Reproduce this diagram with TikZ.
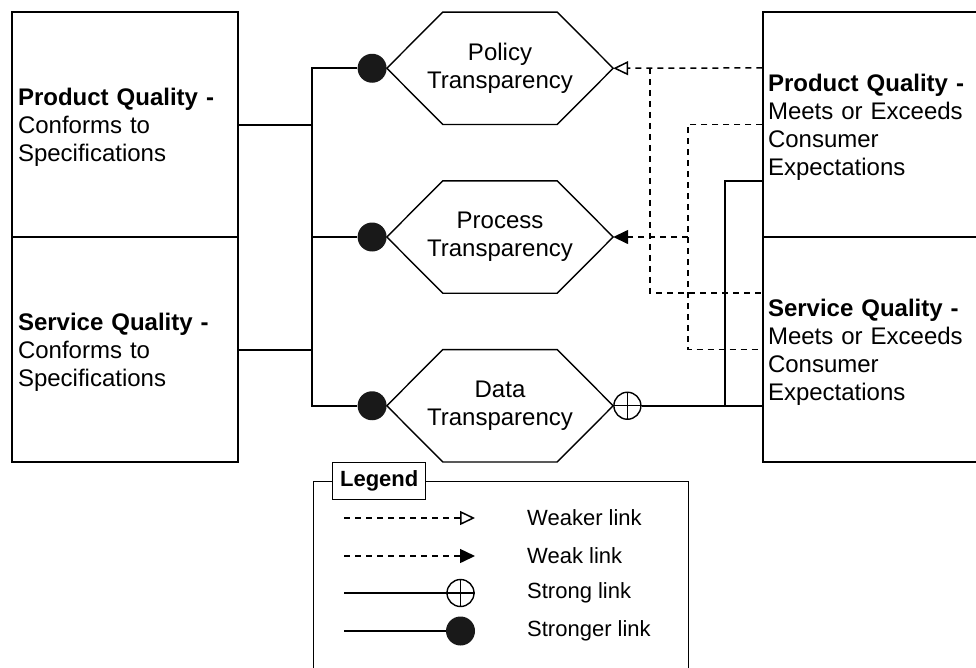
\documentclass[tikz,border=0pt]{standalone}
\usepackage{fontspec}
\setmainfont{Liberation Sans}
\usetikzlibrary{calc}
\usetikzlibrary{positioning}
\usetikzlibrary{arrows.meta}

\begin{document}
\begin{tikzpicture}[x=1pt, y=-1pt, font=\fontsize{24}{28}\selectfont,
  raisetext/.style={execute at begin node={\rule{0pt}{22pt}}},
  qualbox/.style={draw, line width=1.4pt, rectangle, align=left, minimum height=225pt, inner ysep=0pt, raisetext},
  hexnode/.style={rectangle, minimum width=226pt, minimum height=112pt, inner sep=0pt, align=center, raisetext},
  bigdot/.style={circle, fill=black!90, minimum size=29pt, inner sep=0pt},
  splus/.style={circle, draw, line width=1.4pt, minimum size=27pt, inner sep=0pt},
  dashline/.style={dash pattern=on 6pt off 5pt, line width=1.5pt},
  weaker/.style={dashline, -{Triangle[open, length=15pt, width=14pt]}},
  weak/.style={dashline, -{Triangle[length=15pt, width=14pt]}},
  solidline/.style={line width=1.6pt},
  leftline/.style={line width=2pt},
  legtext/.style={anchor=west, inner xsep=0pt, font=\fontsize{22}{26}\selectfont}]

  % Define the page
  \useasboundingbox (0,0) rectangle (976,667);

  % Draw the quality boxes
  \node[qualbox, text width=214pt, inner xsep=6pt] (lpq) at (125,124.5)
    {\textbf{Product Quality -}\\Conforms to\\Specifications};
  \node[qualbox, text width=214pt, inner xsep=6pt] (lsq) at (125,349.5)
    {\textbf{Service Quality -}\\Conforms to\\Specifications};
  \node[qualbox, text width=220pt, inner xsep=5pt] (rpq) at (878,124.5)
    {\textbf{Product Quality -}\\Meets or Exceeds\\Consumer\\Expectations};
  \node[qualbox, text width=220pt, inner xsep=5pt] (rsq) at (878,349.5)
    {\textbf{Service Quality -}\\Meets or Exceeds\\Consumer\\Expectations};

  % Draw the transparency hexagons
  \node[hexnode] (hpol) at (500,68.25) {Policy\\Transparency};
  \node[hexnode] (hpro) at (500,237) {Process\\Transparency};
  \node[hexnode] (hdat) at (500,405.75) {Data\\Transparency};
  \foreach \h in {hpol,hpro,hdat}
    \draw[line width=1.4pt] (\h.west) -- ([xshift=56pt]\h.north west)
      -- ([xshift=-56pt]\h.north east) -- (\h.east)
      -- ([xshift=-56pt]\h.south east) -- ([xshift=56pt]\h.south west) -- cycle;

  % Link ends on the hexagons
  \node[bigdot, left=0pt of hpol] (dpol) {};
  \node[bigdot, left=0pt of hpro] (dpro) {};
  \node[bigdot, left=0pt of hdat] (ddat) {};
  \node[splus, right=0pt of hdat] (odat) {};
  \draw[line width=1.4pt] (odat.north) -- (odat.south) (odat.west) -- (odat.east);

  % Define bus lines
  \coordinate (vL) at (312,0);
  \coordinate (vA) at (650,0);
  \coordinate (vB) at (688,0);
  \coordinate (vC) at (725,0);
  \coordinate (rpqA) at ($(rpq.north west)!.25!(rpq.south west)$);
  \coordinate (rpqC) at ($(rpq.north west)!.75!(rpq.south west)$);
  \coordinate (rsqA) at ($(rsq.north west)!.25!(rsq.south west)$);

  % Stronger links from the left
  \draw[leftline] (lpq.east) -- (lpq.east -| vL);
  \draw[leftline] (lsq.east) -- (lsq.east -| vL);
  \draw[leftline] (dpol.west) -| (vL |- ddat.west) -- (ddat.west);
  \draw[leftline] (dpro.west) -- (dpro.west -| vL);

  % Weaker link (policy)
  \draw[weaker] (rpqA) -- (hpol.east);
  \draw[dashline] (vA |- rpqA) |- (rsqA);

  % Weak link (process)
  \draw[dashline] (rpq.west) -| (vB |- rsq.west) -- (rsq.west);
  \draw[weak] (vB |- hpro.east) -- (hpro.east);

  % Strong link (data)
  \draw[solidline] (rpqC) -| (vC |- odat.east);
  \draw[solidline] (odat.east) -- (odat.east -| rsq.west);

  % Legend
  \node[draw, line width=1.4pt, minimum width=375pt, minimum height=230pt,
    inner sep=0pt, anchor=north west] (legend) at (313,481) {};
  \node[draw, line width=1.4pt, fill=white, font=\bfseries\fontsize{22}{26}\selectfont,
    minimum width=93pt, minimum height=37pt, inner sep=0pt, anchor=west]
    (legtitle) at ([xshift=19pt]legend.north west) {Legend};

  \foreach \yy/\sty/\txt/\nm in {518/weaker/Weaker link/kweaker, 556/weak/Weak link/kweak}{
    \coordinate (\nm s) at (344,\yy);
    \coordinate (\nm e) at (475,\yy);
    \draw[\sty] (\nm s) -- (\nm e);
    \node[legtext] (\nm) at (527,\yy) {\txt};
  }

  \coordinate (kstrongs) at (344,593);
  \node[splus] (kstrongsym) at (460.5,593) {};
  \draw[line width=1.4pt] (kstrongsym.north) -- (kstrongsym.south)
    (kstrongsym.west) -- (kstrongsym.east);
  \draw[solidline] (kstrongs) -- (kstrongsym.west);
  \node[legtext] (kstrong) at (527,593) {Strong link};

  \coordinate (kstrongers) at (344,631);
  \node[bigdot] (kstrongersym) at (460.5,631) {};
  \draw[solidline] (kstrongers) -- (kstrongersym.west);
  \node[legtext] (kstronger) at (527,631) {Stronger link};

\end{tikzpicture}
\end{document}
